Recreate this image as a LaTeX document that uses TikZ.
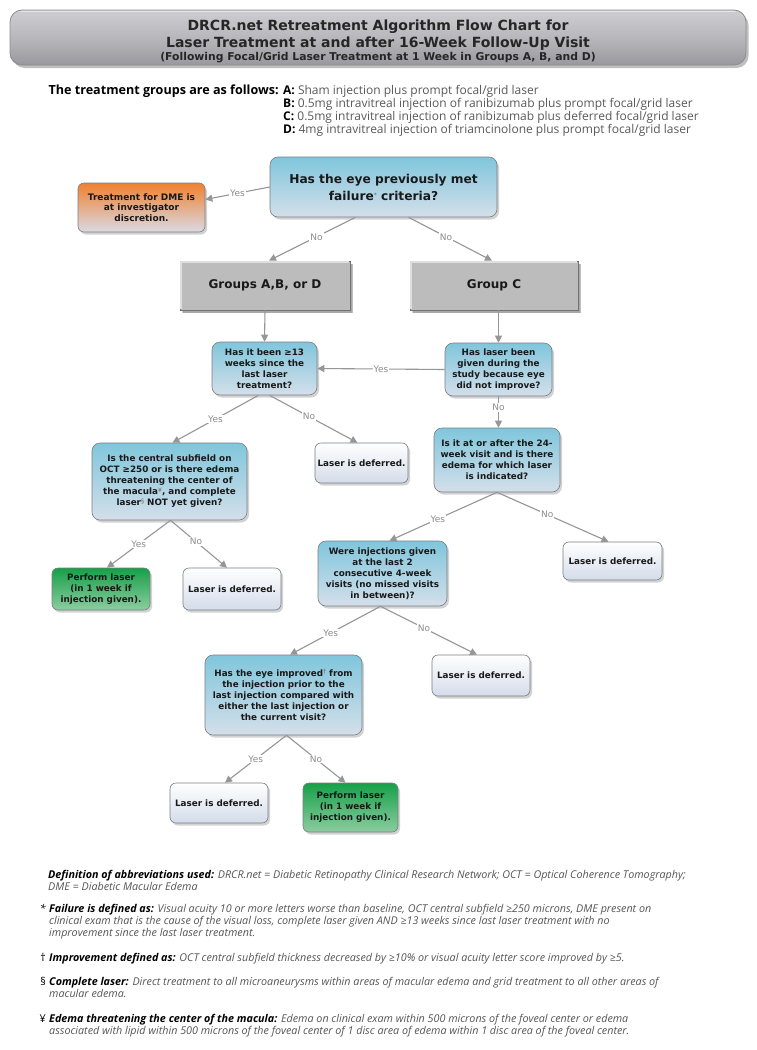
\documentclass[tikz,border=0pt]{standalone}
\usepackage{fontspec}
\setmainfont{Open Sans}
\newfontfamily\dvs{DejaVu Sans}
\usetikzlibrary{shadows,arrows.meta}
\definecolor{bluetop}{RGB}{128,198,220}
\definecolor{bluebot}{RGB}{212,223,234}
\definecolor{orangetop}{RGB}{240,128,48}
\definecolor{orangebot}{RGB}{218,218,228}
\definecolor{greentop}{RGB}{22,160,72}
\definecolor{greenbot}{RGB}{140,205,160}
\definecolor{whitebot}{RGB}{212,220,234}
\definecolor{boxedge}{RGB}{120,125,130}
\definecolor{linegray}{RGB}{150,150,150}
\definecolor{labelgray}{RGB}{140,140,140}
\definecolor{groupgray}{RGB}{188,188,188}
\definecolor{bevel}{RGB}{222,222,222}
\definecolor{textgray}{RGB}{85,85,85}
\definecolor{titletop}{RGB}{206,206,210}
\definecolor{titlemid}{RGB}{184,184,188}
\definecolor{titlebot}{RGB}{152,152,158}
\tikzset{
  sz/.style 2 args={minimum width=#1, minimum height=#2},
  base/.style={draw=boxedge, line width=0.6pt, align=center, inner sep=0pt,
    text=black!90, font=\dvs\bfseries\fontsize{8.8}{11}\selectfont,
    drop shadow={shadow xshift=2pt, shadow yshift=-2.5pt, opacity=0.35}},
  qbox/.style={base, rounded corners=8pt, top color=bluetop, bottom color=bluebot},
  defbox/.style={base, rounded corners=6pt, top color=white, bottom color=whitebot},
  perfbox/.style={base, rounded corners=6pt, top color=greentop, bottom color=greenbot},
  orbox/.style={base, rounded corners=6pt, top color=orangetop, bottom color=orangebot,
    font=\dvs\bfseries\fontsize{9}{10.8}\selectfont},
  grpbox/.style={base, draw=black!55, fill=groupgray, line width=0.8pt,
    font=\dvs\bfseries\fontsize{12}{14}\selectfont,
    drop shadow={shadow xshift=2.5pt, shadow yshift=-2.5pt, opacity=0.5}},
  bevelline/.style={draw=bevel, line width=1.6pt},
  titlebox/.style={draw=black!45, line width=0.8pt, rounded corners=12pt,
    top color=titletop, bottom color=titlebot, middle color=titlemid,
    drop shadow={shadow xshift=2.5pt, shadow yshift=-3pt, opacity=0.5}},
  ttl/.style={inner sep=0pt, text=black!85, anchor=base},
  conn/.style={draw=linegray, line width=1.1pt, -{Triangle[length=7pt,width=7pt]}},
  lbl/.style={fill=white, inner sep=1pt, text=labelgray, font=\dvs\fontsize{9}{9}\selectfont},
  fn/.style={inner sep=0pt, anchor=base west, text=textgray,
    font=\fontsize{10.75}{12}\selectfont\itshape},
  grp/.style={inner sep=0pt, anchor=base west, text=black!65, font=\fontsize{12}{13}\selectfont},
}
\newcommand{\fb}[1]{\textcolor{black}{\bfseries #1}}
\newcommand{\smark}[1]{{\mdseries\fontsize{6}{6}\selectfont\raisebox{2.5pt}{\textcolor{black!60}{#1}}}}
\begin{document}
\begin{tikzpicture}[x=1pt,y=-1pt]
\fill[white] (0,0) rectangle (756,1050);
\useasboundingbox (0,0) rectangle (756,1050);

% title
\node[titlebox, sz={736pt}{55pt}] (title) at (378,37.5) {};
\draw[white, opacity=0.5, line width=0.8pt] ([shift={(10pt,-2pt)}]title.north west) -- ([shift={(-10pt,-2pt)}]title.north east);
\node[ttl, font=\dvs\bfseries\fontsize{14}{16}\selectfont] (t1) at (378,30) {DRCR.net Retreatment Algorithm Flow Chart for};
\node[ttl, font=\dvs\bfseries\fontsize{14}{16}\selectfont] (t2) at (378,47) {Laser Treatment at and after 16-Week Follow-Up Visit};
\node[ttl, font=\dvs\bfseries\fontsize{10.8}{12}\selectfont] (t3) at (378,60) {(Following Focal/Grid Laser Treatment at 1 Week in Groups A, B, and D)};

% treatment groups
\node[inner sep=0pt, anchor=base east, font=\bfseries\fontsize{12.6}{13}\selectfont] (gh) at (279,94) {The treatment groups are as follows:};
\node[grp] (ga) at (283,94) {\textcolor{black}{\bfseries A:} Sham injection plus prompt focal/grid laser};
\node[grp] (gb) at (283,107) {\textcolor{black}{\bfseries B:} 0.5mg intravitreal injection of ranibizumab plus prompt focal/grid laser};
\node[grp] (gcc) at (283,120) {\textcolor{black}{\bfseries C:} 0.5mg intravitreal injection of ranibizumab plus deferred focal/grid laser};
\node[grp] (gd) at (283,133) {\textcolor{black}{\bfseries D:} 4mg intravitreal injection of triamcinolone plus prompt focal/grid laser};

% boxes
\node[qbox, sz={227pt}{60pt}, font=\dvs\bfseries\fontsize{12.2}{17}\selectfont] (q1) at (383.5,187) {Has the eye previously met\\failure\smark{*} criteria?};
\node[orbox, sz={127pt}{49pt}] (dme) at (141.5,207.5) {Treatment for DME is\\at investigator\\discretion.};
\node[grpbox, sz={170pt}{49pt}] (gabd) at (265,285.5) {Groups A,B, or D};
\node[grpbox, sz={168pt}{49pt}] (gc) at (494,285.5) {Group C};
\draw[bevelline] ([shift={(1.6pt,1.6pt)}]gabd.south west) |- ([shift={(-1.6pt,-1.6pt)}]gabd.north east);
\draw[bevelline] ([shift={(1.6pt,1.6pt)}]gc.south west) |- ([shift={(-1.6pt,-1.6pt)}]gc.north east);
\node[qbox, sz={105pt}{53pt}] (q13) at (264.5,368.5) {Has it been ≥13\\weeks since the\\last laser\\treatment?};
\node[qbox, sz={107pt}{53pt}] (qlas) at (498.5,369.5) {Has laser been\\given during the\\study because eye\\did not improve?};
\node[defbox, sz={93pt}{40pt}] (def1) at (361.5,463) {Laser is deferred.};
\node[qbox, sz={155pt}{77pt}] (qoct) at (169.5,481.5) {Is the central subfield on\\OCT ≥250 or is there edema\\threatening the center of\\the macula\smark{¥}, and complete\\laser\smark{§} NOT yet given?};
\node[qbox, sz={126pt}{64pt}] (q24) at (497,460) {Is it at or after the 24-\\week visit and is there\\edema for which laser\\is indicated?};
\node[perfbox, sz={98pt}{42pt}] (perf1) at (101,589) {Perform laser\\(in 1 week if\\injection given).};
\node[defbox, sz={98pt}{42pt}] (def2) at (232,589) {Laser is deferred.};
\node[qbox, sz={129pt}{65pt}] (qinj) at (382.5,573.5) {Were injections given\\at the last 2\\consecutive 4-week\\visits (no missed visits\\in between)?};
\node[defbox, sz={99pt}{38pt}] (def3) at (612.5,561) {Laser is deferred.};
\node[defbox, sz={98pt}{41pt}] (def4) at (481,675.5) {Laser is deferred.};
\node[qbox, sz={157pt}{80pt}] (qimp) at (283.5,695) {Has the eye improved\smark{†} from\\the injection prior to the\\last injection compared with\\either the last injection or\\the current visit?};
\node[defbox, sz={98pt}{40pt}] (def5) at (219,803) {Laser is deferred.};
\node[perfbox, sz={95pt}{49pt}] (perf2) at (350.5,807.5) {Perform laser\\(in 1 week if\\injection given).};

% connectors
\draw[conn] (q1.west) -- node[lbl] {Yes} ([yshift=8pt]dme.east);
\draw[conn] ([xshift=-28pt]q1.south) -- node[lbl, pos=0.45] {No} ([xshift=4pt]gabd.north);
\draw[conn] ([xshift=25pt]q1.south) -- node[lbl, pos=0.45] {No} ([xshift=-2pt]gc.north);
\draw[conn] (gabd.south) -- (q13.north);
\draw[conn] (gc.south -| qlas.north) -- (qlas.north);
\draw[conn] (qlas.west) -- node[lbl] {Yes} (q13.east);
\draw[conn] (qlas.south) -- node[lbl, pos=0.35] {No} (q24.north -| qlas.south);
\draw[conn] ([xshift=-6pt]q13.south) -- node[lbl] {Yes} ([xshift=3pt]qoct.north);
\draw[conn] ([xshift=5pt]q13.south) -- node[lbl, pos=0.45] {No} ([xshift=-4pt]def1.north);
\draw[conn] ([xshift=1pt]qoct.south) -- node[lbl] {Yes} ([xshift=6pt]perf1.north);
\draw[conn] ([xshift=1pt]qoct.south) -- node[lbl, pos=0.45] {No} ([xshift=-5pt]def2.north);
\draw[conn] (q24.south) -- node[lbl, pos=0.55] {Yes} ([xshift=7pt]qinj.north);
\draw[conn] (q24.south) -- node[lbl, pos=0.45] {No} ([xshift=-4pt]def3.north);
\draw[conn] ([xshift=-2pt]qinj.south) -- node[lbl, pos=0.55] {Yes} ([xshift=6.5pt]qimp.north);
\draw[conn] ([xshift=-2pt]qinj.south) -- node[lbl, pos=0.45] {No} ([xshift=-4pt]def4.north);
\draw[conn] ([xshift=3pt]qimp.south) -- node[lbl, pos=0.5] {Yes} ([xshift=6pt]def5.north);
\draw[conn] ([xshift=3pt]qimp.south) -- node[lbl, pos=0.5] {No} ([xshift=-5pt]perf2.north);

% footnotes
\node[fn] (f1a) at (48,878) {\fb{Definition of abbreviations used:} DRCR.net = Diabetic Retinopathy Clinical Research Network; OCT = Optical Coherence Tomography;};
\node[fn] (f1b) at (48,890) {DME = Diabetic Macular Edema};
\node[fn, anchor=base east] (s2) at (46,912) {\textcolor{black}{*}};
\node[fn] (f2a) at (49,912) {\fb{Failure is defined as:} Visual acuity 10 or more letters worse than baseline, OCT central subfield ≥250 microns, DME present on};
\node[fn] (f2b) at (49,924) {clinical exam that is the cause of the visual loss, complete laser given AND ≥13 weeks since last laser treatment with no};
\node[fn] (f2c) at (49,936) {improvement since the last laser treatment.};
\node[fn, anchor=base east] (s3) at (46,961) {\textcolor{black}{\upshape †}};
\node[fn] (f3a) at (49,961) {\fb{Improvement defined as:} OCT central subfield thickness decreased by ≥10\% or visual acuity letter score improved by ≥5.};
\node[fn, anchor=base east] (s4) at (46,985) {\textcolor{black}{\upshape §}};
\node[fn] (f4a) at (49,985) {\fb{Complete laser:} Direct treatment to all microaneurysms within areas of macular edema and grid treatment to all other areas of};
\node[fn] (f4b) at (49,997) {macular edema.};
\node[fn, anchor=base east] (s5) at (46,1022) {\textcolor{black}{\upshape ¥}};
\node[fn] (f5a) at (49,1022) {\fb{Edema threatening the center of the macula:} Edema on clinical exam within 500 microns of the foveal center or edema};
\node[fn] (f5b) at (49,1034) {associated with lipid within 500 microns of the foveal center of 1 disc area of edema within 1 disc area of the foveal center.};
\end{tikzpicture}
\end{document}
